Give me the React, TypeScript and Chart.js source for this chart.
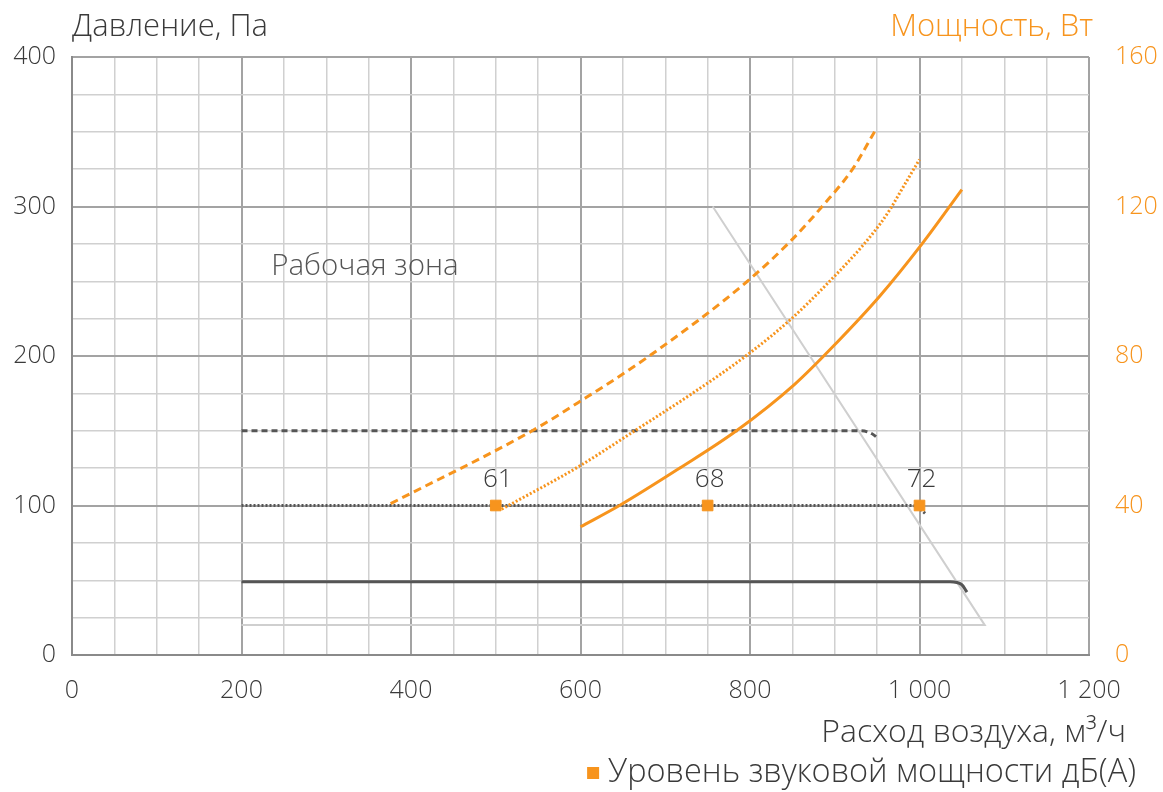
import React, { useEffect, useRef } from "react";
import { Chart, registerables } from "chart.js";
Chart.register(...registerables);

// ---- data ----
const flowTicks = [0, 200, 400, 600, 800, 1000, 1200];
const pressureTicks = [0, 100, 200, 300, 400];
const powerTicks = [0, 40, 80, 120, 160];

// pressure curves (Pa) vs flow (m3/h)
const pressHighFlow = [200, 930, 944, 951];
const pressHigh = [150, 150, 148, 145];
const pressMidFlow = [200, 992, 1002, 1008];
const pressMid = [100, 100, 97, 94];
const pressLowFlow = [200, 1036, 1050, 1056];
const pressLow = [49, 49, 47, 42];

// power curves (W) vs flow
const powHighFlow = [376, 543, 597, 678, 797, 849, 887, 921, 947];
const powHigh = [40.5, 60, 67.5, 79.5, 100, 111, 120.5, 130, 140];
const powMidFlow = [507, 597, 664, 732, 795, 849, 894, 934, 954, 966, 981, 1000];
const powMid = [39, 50.3, 60, 70, 80, 90, 100, 109.8, 115.5, 119.5, 125.3, 132.6];
const powLowFlow = [600, 646, 717, 784, 853, 902, 953, 1003, 1050];
const powLow = [34.3, 40, 50, 60, 72.5, 83.5, 96, 110, 124.5];

// working zone boundary
const zoneFlow = [756, 1077, 200];
const zonePress = [300, 20, 20];

// sound power level markers
const soundFlow = [500, 750, 1000];
const soundPress = [100, 100, 100];
const soundLevel = [61, 68, 72];

const ORANGE = "#f7941d";
const GRAY = "#555555";
const TEXT = "#3a3a3a";
const FONT = "'Open Sans', sans-serif";

const pts = (xs: number[], ys: number[]) => xs.map((x, i) => ({ x, y: ys[i] }));
const fmt = (v: number) => (v >= 1000 ? `${Math.floor(v / 1000)}\u00a0${String(v % 1000).padStart(3, "0")}` : String(v));

export default function App() {
  const ref = useRef<HTMLCanvasElement | null>(null);
  useEffect(() => {
    if (!ref.current) return;
    const textPlugin = {
      id: "texts",
      afterDatasetsDraw(chart: any) {
        const { ctx, scales } = chart;
        const xs = scales.x, ys = scales.y;
        ctx.save();
        ctx.textBaseline = "middle";
        ctx.fillStyle = TEXT;
        ctx.font = `300 26px ${FONT}`;
        ctx.textAlign = "center";
        soundFlow.forEach((f, i) => {
          ctx.fillText(String(soundLevel[i]), xs.getPixelForValue(f) + 2, ys.getPixelForValue(soundPress[i]) - 26);
        });
        ctx.fillStyle = "#555";
        ctx.textAlign = "left";
        ctx.font = `300 29.5px ${FONT}`;
        ctx.fillText("Рабочая зона", xs.getPixelForValue(235), ys.getPixelForValue(260));
        ctx.restore();
      },
      afterDraw(chart: any) {
        const { ctx, chartArea } = chart;
        ctx.save();
        ctx.textBaseline = "middle";
        ctx.font = `300 31px ${FONT}`;
        ctx.fillStyle = TEXT;
        ctx.textAlign = "left";
        ctx.fillText("Давление, Па", chartArea.left, 27);
        ctx.fillStyle = ORANGE;
        ctx.textAlign = "right";
        ctx.fillText("Мощность, Вт", chartArea.right + 4, 27);
        ctx.fillStyle = TEXT;
        ctx.font = `300 32px ${FONT}`;
        ctx.fillText("Расход воздуха, м³/ч", 1126, 733);
        ctx.font = `300 32.5px ${FONT}`;
        ctx.fillText("Уровень звуковой мощности дБ(А)", 1136, 773);
        const w = ctx.measureText("Уровень звуковой мощности дБ(А)").width;
        ctx.fillStyle = ORANGE;
        ctx.fillRect(1136 - w - 21, 767, 12, 12);
        ctx.restore();
      },
    };

    const orange = (data: any, extra: any) => ({
      data,
      yAxisID: "y1",
      borderColor: ORANGE,
      pointRadius: 0,
      cubicInterpolationMode: "monotone",
      ...extra,
    });
    const gray = (data: any, extra: any) => ({
      data,
      yAxisID: "y",
      borderColor: GRAY,
      borderWidth: 3,
      pointRadius: 0,
      cubicInterpolationMode: "monotone",
      ...extra,
    });

    const chart = new Chart(ref.current, {
      type: "line",
      data: {
        datasets: [
          {
            label: "sound",
            data: pts(soundFlow, soundPress),
            yAxisID: "y",
            showLine: false,
            pointStyle: "rect",
            pointRadius: 7.5,
            pointBackgroundColor: ORANGE,
            pointBorderColor: ORANGE,
            borderColor: ORANGE,
          },
          orange(pts(powHighFlow, powHigh), { borderWidth: 3, borderDash: [8, 5] }),
          orange(pts(powMidFlow, powMid), { borderWidth: 3, borderDash: [2, 2] }),
          orange(pts(powLowFlow, powLow), { borderWidth: 3 }),
          gray(pts(pressHighFlow, pressHigh), { borderDash: [6, 4] }),
          gray(pts(pressMidFlow, pressMid), { borderDash: [2, 2] }),
          gray(pts(pressLowFlow, pressLow), {}),
          {
            data: pts(zoneFlow, zonePress),
            yAxisID: "y",
            borderColor: "#cfcfcf",
            borderWidth: 2,
            pointRadius: 0,
            tension: 0,
          },
        ],
      },
      options: {
        animation: false,
        responsive: true,
        maintainAspectRatio: false,
        layout: { padding: { top: 57, left: 0, right: 0, bottom: 0 } },
        plugins: { legend: { display: false }, tooltip: { enabled: false } },
        scales: {
          x: {
            type: "linear",
            min: 0,
            max: 1200,
            afterFit: (s: any) => { s.height = 137; },
            afterBuildTicks: (s: any) => {
              const t = [];
              for (let v = 0; v <= 1200; v += 50) t.push({ value: v });
              s.ticks = t;
            },
            ticks: {
              autoSkip: false,
              maxRotation: 0,
              padding: 21,
              color: TEXT,
              font: { family: FONT, size: 25, weight: "300" },
              callback: (v: any) => (flowTicks.includes(v) ? fmt(v) : ""),
            },
            grid: {
              drawTicks: false,
              color: (c: any) => (c.tick && c.tick.value % 200 === 0 ? "#a3a3a3" : "#d0d0d0"),
              lineWidth: (c: any) => (c.tick && c.tick.value % 200 === 0 ? 2 : 1.5),
            },
            border: { color: "#8a8a8a", width: 2 },
          },
          y: {
            type: "linear",
            position: "left",
            min: 0,
            max: 400,
            afterFit: (s: any) => { s.width = 72; },
            afterBuildTicks: (s: any) => {
              const t = [];
              for (let v = 0; v <= 400; v += 25) t.push({ value: v });
              s.ticks = t;
            },
            ticks: {
              autoSkip: false,
              padding: 16,
              color: TEXT,
              font: { family: FONT, size: 25, weight: "300" },
              callback: (v: any) => (pressureTicks.includes(v) ? String(v) : ""),
            },
            grid: {
              drawTicks: false,
              color: (c: any) => (c.tick && c.tick.value % 100 === 0 ? "#a3a3a3" : "#d0d0d0"),
              lineWidth: (c: any) => (c.tick && c.tick.value % 100 === 0 ? 2 : 1.5),
            },
            border: { color: "#8a8a8a", width: 2 },
          },
          y1: {
            type: "linear",
            position: "right",
            min: 0,
            max: 160,
            afterFit: (s: any) => { s.width = 74; },
            afterBuildTicks: (s: any) => {
              s.ticks = powerTicks.map((v) => ({ value: v }));
            },
            ticks: {
              autoSkip: false,
              padding: 26,
              color: ORANGE,
              font: { family: FONT, size: 25, weight: "300" },
              callback: (v: any) => String(v),
            },
            grid: { drawOnChartArea: false, drawTicks: false },
            border: { display: false },
          },
        },
      },
      plugins: [textPlugin],
    } as any);
    return () => chart.destroy();
  }, []);

  return (
    <div style={{ position: "absolute", left: 0, top: 0, width: 1163, height: 792, background: "#fff" }}>
      <canvas ref={ref} />
    </div>
  );
}
